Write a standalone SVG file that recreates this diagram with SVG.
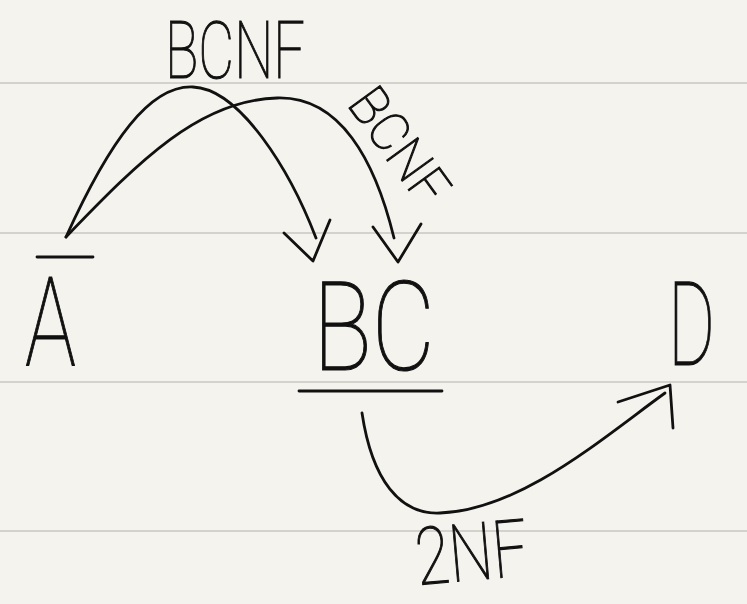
<svg xmlns="http://www.w3.org/2000/svg" width="747" height="604" viewBox="0 0 747 604">
<style>
.ink{fill:none;stroke:#111;stroke-width:2.8;stroke-linecap:round;stroke-linejoin:round}
.rule{stroke:#d3d2cc;stroke-width:2}
.t{font-family:Roboto,"Liberation Sans",sans-serif;font-weight:100;fill:#111;stroke:#111;stroke-width:1.1}
</style>
<rect width="747" height="604" fill="#f5f3ee"/>
<g id="paper">
<line class="rule" x1="0" y1="83" x2="747" y2="83"/>
<line class="rule" x1="0" y1="233" x2="747" y2="233"/>
<line class="rule" x1="0" y1="382" x2="747" y2="382"/>
<line class="rule" x1="0" y1="531" x2="747" y2="531"/>
</g>
<g id="node-A">
<line class="ink" x1="37" y1="257" x2="93" y2="257"/>
<text class="t" x="25" y="365" font-size="124" textLength="51" lengthAdjust="spacingAndGlyphs">A</text>
</g>
<g id="node-BC">
<text class="t" x="313" y="370" font-size="124" textLength="122" lengthAdjust="spacingAndGlyphs">BC</text>
<line class="ink" x1="299" y1="391" x2="442" y2="391"/>
</g>
<g id="node-D">
<text class="t" x="668" y="365" font-size="117" textLength="47" lengthAdjust="spacingAndGlyphs">D</text>
</g>
<g id="connectors">
<path class="ink" d="M66,237 C110,140 150,85 193,87 C240,89 290,170 316,238"/>
<path class="ink" d="M284,233 L313,261 L330,220"/>
<path class="ink" d="M66,237 C140,160 200,100 277,98 C340,96 375,160 394,238"/>
<path class="ink" d="M373,227 L398,262 L421,224"/>
<path class="ink" d="M362,413 C372,480 400,515 440,513 C520,510 600,440 665,393"/>
<path class="ink" d="M618,402 L670,385 L673,428"/>
<text class="t" x="165" y="78" font-size="80" textLength="140" lengthAdjust="spacingAndGlyphs">BCNF</text>
<text class="t" transform="translate(346,104) rotate(54)" x="0" y="0" font-size="54" textLength="130" lengthAdjust="spacingAndGlyphs">BCNF</text>
<text class="t" transform="rotate(-5 418 585)" x="418" y="585" font-size="80" textLength="112" lengthAdjust="spacingAndGlyphs">2NF</text>
</g>
</svg>
